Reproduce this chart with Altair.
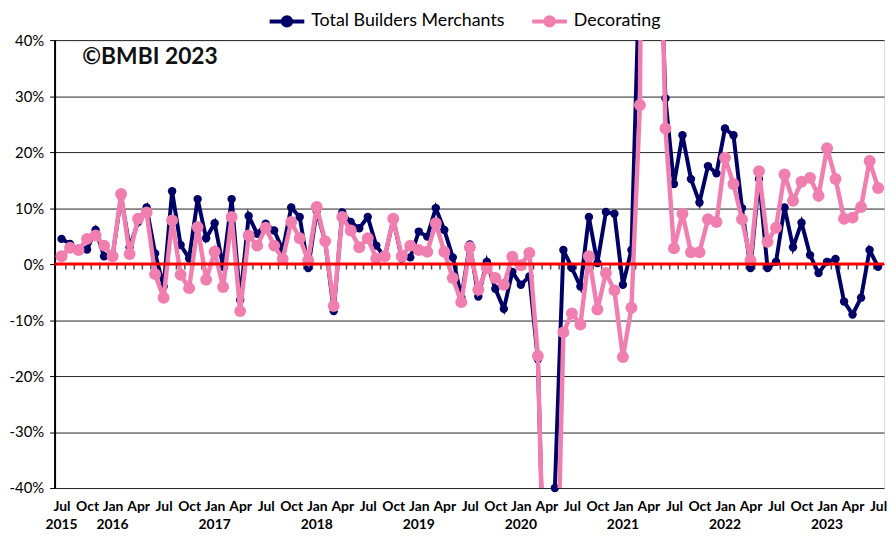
import altair as alt
import pandas as pd

# ---------------- data ----------------
series_names = ["Total Builders Merchants", "Decorating"]
series_colors = ["#000066", "#F07FB0"]

# monthly values Jul 2015 .. Jul 2023 (97 months), % change
tbm = [
    4.5, 3.6, 2.5, 2.6, 6.1, 1.4, 1.4, 12.0, 3.0, 7.5,
    10.1, 1.9, -4.0, 13.0, 3.4, 1.0, 11.6, 4.6, 7.3, -0.5,
    11.6, -6.4, 8.6, 5.4, 7.2, 6.0, 2.5, 10.1, 8.4, -0.7,
    9.5, 4.0, -8.4, 9.2, 7.5, 6.4, 8.4, 3.3, 1.2, 8.0,
    1.0, 1.2, 5.8, 4.9, 10.0, 6.1, 1.2, -6.0, 3.5, -5.8,
    0.4, -4.4, -8.0, -1.4, -3.7, -2.2, -17.0, -73.0, -40.0, 2.5,
    -0.7, -4.0, 8.4, 0.2, 9.3, 9.0, -3.7, 2.5, 55.0, 200.0,
    75.0, 29.6, 14.3, 23.0, 15.2, 11.0, 17.5, 16.2, 24.2, 23.0,
    10.0, -0.7, 15.2, -0.7, 0.4, 10.1, 3.0, 7.4, 1.6, -1.6,
    0.4, 0.9, -6.7, -9.0, -6.0, 2.5, -0.5,
]
decorating = [
    1.4, 2.9, 2.5, 4.5, 5.1, 3.3, 1.4, 12.5, 1.8, 8.1,
    9.2, -1.8, -6.0, 7.8, -1.9, -4.3, 6.6, -2.8, 2.2, -4.1,
    8.4, -8.4, 5.1, 3.3, 6.5, 3.3, 0.9, 7.5, 4.6, 0.7,
    10.2, 4.1, -7.5, 8.4, 6.0, 3.0, 4.6, 1.0, 1.4, 8.1,
    1.4, 3.3, 2.5, 2.2, 7.3, 2.2, -2.5, -6.8, 3.0, -4.6,
    -0.7, -2.5, -3.7, 1.3, -0.2, 2.0, -16.4, -75.0, -75.0, -12.2,
    -8.8, -10.8, 1.4, -8.1, -1.6, -4.7, -16.6, -7.8, 28.4, 250.0,
    90.0, 24.2, 2.8, 9.0, 2.1, 2.1, 8.0, 7.5, 19.0, 14.3,
    8.0, 0.7, 16.6, 4.0, 6.5, 16.0, 11.3, 14.7, 15.4, 12.2,
    20.7, 15.2, 8.1, 8.3, 10.2, 18.4, 13.6,
]
month_index = list(range(len(tbm)))
month_names = ["Jul", "Oct", "Jan", "Apr"]
year_labels = ["2015", "2016", "2017", "2018", "2019", "2020", "2021", "2022", "2023"]
year_positions = [0, 6, 18, 30, 42, 54, 66, 78, 90]
y_ticks = [-40, -30, -20, -10, 0, 10, 20, 30, 40]

df = pd.DataFrame({
    "m": month_index + month_index,
    "series": [series_names[0]] * len(tbm) + [series_names[1]] * len(decorating),
    "value": tbm + decorating,
})
years_df = pd.DataFrame({"pos": year_positions, "year": year_labels})
ticks_df = pd.DataFrame({"t": [i + 0.5 for i in range(len(tbm) - 1)], "z": 0})
zero_df = pd.DataFrame({"y": [0]})
note_df = pd.DataFrame({"t": ["©BMBI 2023"]})

FONT = "Lato"
W, H = 837, 452

xscale = alt.Scale(domain=[-0.82, 96.7], nice=False, zero=False)
yscale = alt.Scale(domain=[-40, 40], nice=False)
cscale = alt.Scale(domain=series_names, range=series_colors)

month_arr = "[" + ",".join(f"'{m}'" for m in month_names) + "]"
x_axis = alt.Axis(
    values=list(range(0, len(tbm), 3)),
    labelExpr=f"{month_arr}[round(datum.value/3) % 4]",
    grid=False, domain=False, ticks=False,
    labelFont=FONT, labelFontWeight="bold", labelFontSize=14,
    labelColor="black", labelPadding=12, labelOverlap=False, labelFlush=False,
    labelBound=False,
)
y_axis = alt.Axis(
    values=y_ticks, labelExpr="datum.value + '%'",
    grid=True, gridColor="#222222", gridWidth=1,
    domainColor="black", domainWidth=2,
    tickColor="black", tickSize=5, tickWidth=1,
    labelFont=FONT, labelFontSize=15, labelColor="black", labelPadding=6,
)


def X(field):
    return alt.X(field, scale=xscale, axis=x_axis, title=None)


def Y(field):
    return alt.Y(field, scale=yscale, axis=y_axis, title=None)


legend = alt.Legend(
    title=None, orient="none", legendX=215, legendY=-38.5, direction="horizontal",
    # line + filled dot (two concentric rings drawn with a thick stroke)
    symbolType=("M-1,0L1,0"
                "M-0.24,0A0.24,0.24,0,1,1,0.24,0A0.24,0.24,0,1,1,-0.24,0Z"
                "M-0.1,0A0.1,0.1,0,1,1,0.1,0A0.1,0.1,0,1,1,-0.1,0Z"),
    symbolSize=1225, symbolStrokeWidth=4, symbolOpacity=1,
    labelFont=FONT, labelFontSize=18, labelColor="black", labelLimit=400,
    labelOffset=5, columnPadding=19, padding=0,
)
color = alt.Color("series:N", scale=cscale, legend=legend)

base = alt.Chart(df)
layers = []
widths = [4, 4.5]
sizes = [72, 145]
for name, lw, sz in zip(series_names, widths, sizes):
    line = base.transform_filter(alt.datum.series == name).mark_line(
        clip=True, strokeWidth=lw
    ).encode(x=X("m:Q"), y=Y("value:Q"), color=color)
    pts = base.transform_filter(
        (alt.datum.series == name) & (alt.datum.value >= -40.01) & (alt.datum.value <= 40.01)
    ).mark_circle(size=sz, opacity=1).encode(x=X("m:Q"), y=Y("value:Q"), color=color)
    layers += [line, pts]

ticks = alt.Chart(ticks_df).mark_tick(
    orient="vertical", size=5, thickness=1.5, color="black", yOffset=3
).encode(x=X("t:Q"), y=Y("z:Q"))

zero = alt.Chart(zero_df).mark_rule(color="#FF0000", strokeWidth=3).encode(y=Y("y:Q"))

years = alt.Chart(years_df).mark_text(
    font=FONT, fontWeight="bold", fontSize=14, baseline="middle", color="black"
).encode(x=X("pos:Q"), y=alt.value(H + 37), text="year:N")

note = alt.Chart(note_df).mark_text(
    font=FONT, fontWeight="bold", fontSize=23, align="left", baseline="middle", color="#111111"
).encode(x=alt.value(28), y=alt.value(17), text="t:N")

chart = alt.layer(ticks, *layers, zero, years, note).properties(
    width=W, height=H,
    autosize=alt.AutoSizeParams(type="none"),
    padding={"left": 47, "top": 30, "right": 4, "bottom": 46},
).configure_view(stroke=None).configure(background="white")

chart.save("out.html", embed_options={"renderer": "svg", "actions": False})
